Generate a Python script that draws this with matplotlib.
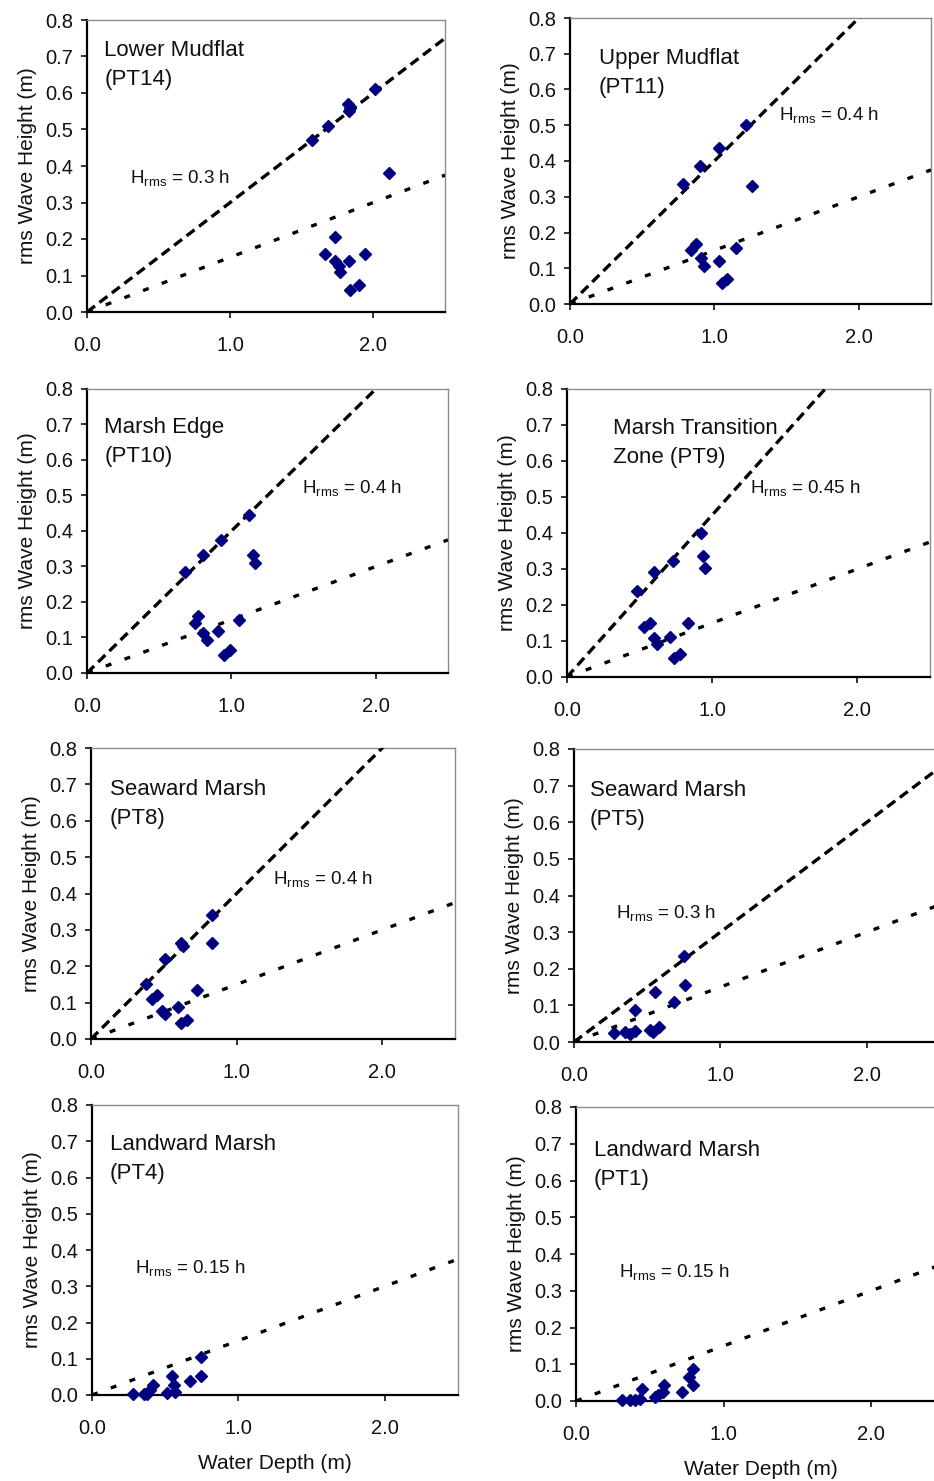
import matplotlib
matplotlib.use("Agg")
import matplotlib.pyplot as plt
from matplotlib.ticker import FormatStrFormatter, MultipleLocator
import numpy as np

plt.rcParams['font.family'] = ['Liberation Sans', 'DejaVu Sans']
plt.rcParams['mathtext.fontset'] = 'custom'
plt.rcParams['mathtext.rm'] = 'Liberation Sans'
plt.rcParams['mathtext.it'] = 'Liberation Sans:italic'

# ---- site names -------------------------------------------------------
titles = [
    "Lower Mudflat\n(PT14)", "Upper Mudflat\n(PT11)",
    "Marsh Edge\n(PT10)", "Marsh Transition\nZone (PT9)",
    "Seaward Marsh\n(PT8)", "Seaward Marsh\n(PT5)",
    "Landward Marsh\n(PT4)", "Landward Marsh\n(PT1)",
]

# ---- breaking-ratio lines (H_rms = k h) --------------------------------
upper_ratio = [0.3, 0.4, 0.4, 0.45, 0.4, 0.3, None, None]
lower_ratio = 0.15
ratio_labels = ["0.3", "0.4", "0.4", "0.45", "0.4", "0.3", "0.15", "0.15"]

# ---- measured water depth (m) and rms wave height (m) -----------------
depth_pt14 = [1.57, 1.68, 1.82, 1.83, 1.84, 2.01, 2.11, 1.73, 1.66, 1.73, 1.76, 1.77, 1.83, 1.94, 1.84, 1.90]
hrms_pt14 = [0.47, 0.51, 0.57, 0.55, 0.56, 0.61, 0.38, 0.205, 0.16, 0.14, 0.125, 0.11, 0.14, 0.16, 0.06, 0.075]

depth_pt11 = [0.78, 0.90, 1.03, 1.22, 1.26, 0.87, 0.84, 0.91, 0.93, 1.03, 1.15, 1.05, 1.09]
hrms_pt11 = [0.335, 0.385, 0.435, 0.50, 0.33, 0.168, 0.15, 0.13, 0.105, 0.12, 0.157, 0.06, 0.07]

depth_pt10 = [0.68, 0.80, 0.93, 1.12, 1.15, 1.16, 0.77, 0.75, 0.80, 0.83, 0.91, 1.05, 0.95, 0.99]
hrms_pt10 = [0.284, 0.331, 0.376, 0.446, 0.333, 0.31, 0.16, 0.141, 0.113, 0.094, 0.117, 0.15, 0.052, 0.066]

depth_pt9 = [0.48, 0.60, 0.73, 0.92, 0.94, 0.95, 0.53, 0.57, 0.60, 0.62, 0.71, 0.83, 0.74, 0.78]
hrms_pt9 = [0.239, 0.292, 0.323, 0.401, 0.337, 0.304, 0.139, 0.151, 0.107, 0.091, 0.111, 0.149, 0.054, 0.063]

depth_pt8 = [0.38, 0.51, 0.62, 0.63, 0.83, 0.83, 0.42, 0.45, 0.49, 0.51, 0.60, 0.73, 0.62, 0.66]
hrms_pt8 = [0.152, 0.22, 0.264, 0.255, 0.342, 0.264, 0.11, 0.122, 0.076, 0.07, 0.087, 0.134, 0.044, 0.053]

depth_pt5 = [0.75, 0.76, 0.55, 0.68, 0.42, 0.27, 0.35, 0.38, 0.42, 0.52, 0.58, 0.54]
hrms_pt5 = [0.235, 0.155, 0.137, 0.108, 0.087, 0.025, 0.027, 0.023, 0.029, 0.034, 0.041, 0.027]

depth_pt4 = [0.745, 0.745, 0.67, 0.545, 0.557, 0.568, 0.511, 0.42, 0.393, 0.375, 0.352, 0.28]
hrms_pt4 = [0.106, 0.052, 0.04, 0.052, 0.028, 0.009, 0.005, 0.028, 0.014, 0.002, 0.002, 0.003]

depth_pt1 = [0.795, 0.768, 0.791, 0.716, 0.597, 0.592, 0.558, 0.536, 0.45, 0.434, 0.40, 0.366, 0.31]
hrms_pt1 = [0.088, 0.065, 0.043, 0.024, 0.043, 0.024, 0.015, 0.011, 0.034, 0.006, 0.004, 0.004, 0.004]

depths = [depth_pt14, depth_pt11, depth_pt10, depth_pt9, depth_pt8, depth_pt5, depth_pt4, depth_pt1]
heights = [hrms_pt14, hrms_pt11, hrms_pt10, hrms_pt9, hrms_pt8, hrms_pt5, hrms_pt4, hrms_pt1]

# ---- layout: panel boxes in pixels (x0, y_top, x_right, y_bottom) -------
W, H = 934, 1481
boxes = [
    (87, 20, 445, 312), (570, 18, 931, 304),
    (87, 389, 448, 673), (567, 389, 930, 677),
    (91, 748, 455, 1039), (574, 749, 940, 1042),
    (92, 1105, 458, 1395), (576, 1107, 945, 1401),
]
# text anchor points in data coordinates
title_pos = [(0.12, 0.745), (0.20, 0.715), (0.12, 0.72), (0.32, 0.72),
             (0.13, 0.715), (0.11, 0.715), (0.12, 0.72), (0.12, 0.71)]
ratio_pos = [(0.30, 0.366), (1.445, 0.529), (1.488, 0.521), (1.26, 0.524),
             (1.248, 0.44), (0.285, 0.353), (0.295, 0.349), (0.294, 0.351)]

fig = plt.figure(figsize=(W / 100, H / 100), dpi=100)
fig.patch.set_facecolor('white')

h_line = np.array([0.0, 2.5])
text_color = '#111111'

for i in range(8):
    x0, yt, x1, yb = boxes[i]
    ax = fig.add_axes([x0 / W, 1 - yb / H, (x1 - x0) / W, (yb - yt) / H])
    ax.set_xlim(0, 2.5)
    ax.set_ylim(0, 0.8)

    # upper (long dash) and lower (short dash) ratio lines
    if upper_ratio[i] is not None:
        ax.plot(h_line, upper_ratio[i] * h_line, color='black', lw=2.4,
                linestyle=(0, (3.0, 1.7)), zorder=3)
    ax.plot(h_line, lower_ratio * h_line, color='black', lw=2.4,
            linestyle=(0, (1.8, 4.2)), zorder=3)

    ax.plot(depths[i], heights[i], linestyle='none', marker='D', ms=6,
            color='#000080', mec='#000080', zorder=4, clip_on=False)

    ax.text(title_pos[i][0], title_pos[i][1], titles[i], fontsize=16,
            va='top', ha='left', color=text_color, linespacing=1.5, zorder=2)
    ax.text(ratio_pos[i][0], ratio_pos[i][1],
            r"H$_\mathregular{rms}$ = " + ratio_labels[i] + " h",
            fontsize=13.5, va='center', ha='left', color=text_color, zorder=2)

    ax.yaxis.set_major_locator(MultipleLocator(0.1))
    ax.xaxis.set_major_locator(MultipleLocator(1.0))
    ax.yaxis.set_major_formatter(FormatStrFormatter('%.1f'))
    ax.xaxis.set_major_formatter(FormatStrFormatter('%.1f'))
    ax.tick_params(axis='both', direction='out', length=4, width=1.2,
                   labelsize=14.5, colors=text_color)
    ax.tick_params(axis='y', pad=6)
    ax.tick_params(axis='x', pad=13)

    for side in ('left', 'bottom'):
        ax.spines[side].set_color('black')
        ax.spines[side].set_linewidth(1.6)
    for side in ('top', 'right'):
        ax.spines[side].set_color('#8c8c8c')
        ax.spines[side].set_linewidth(1.0)

    ax.set_ylabel("rms Wave Height (m)", fontsize=15, color=text_color,
                  labelpad=6)
    if i >= 6:
        ax.set_xlabel("Water Depth (m)", fontsize=15, color=text_color,
                      labelpad=12)

fig.savefig("out.png", dpi=100, facecolor='white')
